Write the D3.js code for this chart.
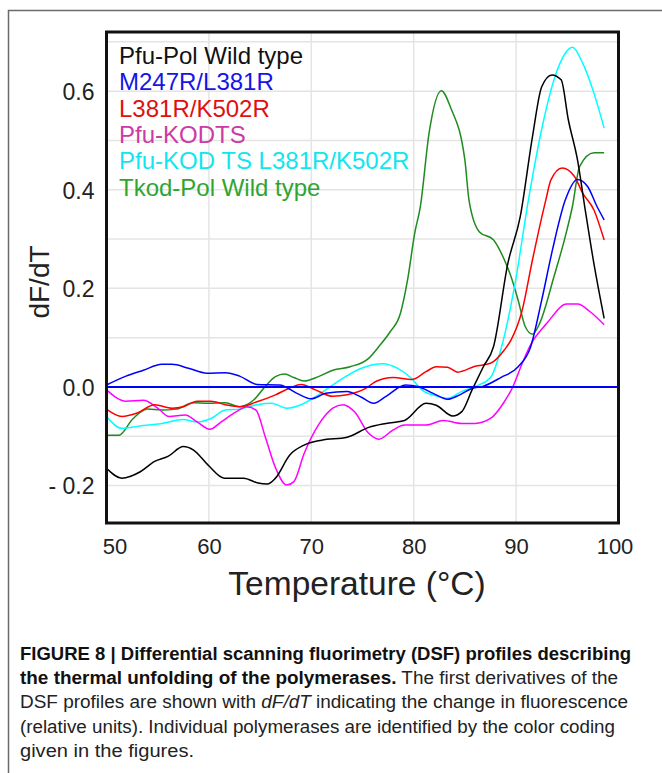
<!DOCTYPE html>
<html><head><meta charset="utf-8">
<script src="https://cdn.jsdelivr.net/npm/d3@7"></script>
<style>
html,body{margin:0;padding:0;background:#fff;}
svg{display:block;}
</style></head>
<body>
<svg id="chart" width="662" height="773"></svg>
<script>
// ---- data ----
const seriesNames = ["Pfu-Pol Wild type","M247R/L381R","L381R/K502R","Pfu-KODTS","Pfu-KOD TS L381R/K502R","Tkod-Pol Wild type"];
const lineColors = ["#000000","#0000ff","#ff0000","#ff00ff","#00ffff","#1e8c1e"];
const textColors = ["#111111","#1515e6","#e01010","#cc3aa6","#10e6ee","#2fa52f"];
const xTicks = [50,60,70,80,90,100];
const yTicks = [0.6,0.4,0.2,0.0,-0.2];
const yTickLabels = ["0.6","0.4","0.2","0.0","- 0.2"];
const yGrid = [-0.2,-0.1,0.1,0.2,0.3,0.4,0.5,0.6,0.7];
const xGrid = [60,70,80,90];

const pfuWT = [[50.0,-0.165],[51.5,-0.185],[53.3,-0.172],[54.7,-0.151],[56.0,-0.141],[57.5,-0.121],[58.5,-0.128],[59.9,-0.158],[61.5,-0.185],[63.4,-0.185],[64.8,-0.195],[65.7,-0.197],[66.5,-0.185],[67.9,-0.138],[69.3,-0.118],[71.0,-0.108],[73.5,-0.102],[75.6,-0.082],[77.3,-0.074],[79.1,-0.068],[81.2,-0.033],[82.2,-0.037],[83.8,-0.059],[84.7,-0.050],[85.7,-0.006],[86.8,0.041],[87.8,0.082],[89.2,0.251],[90.4,0.345],[91.6,0.508],[92.5,0.609],[93.5,0.633],[94.4,0.623],[95.1,0.542],[96.0,0.46],[96.7,0.366],[97.6,0.25],[98.6,0.139]];
const m247r = [[50.0,0.004],[51.9,0.022],[53.6,0.034],[55.4,0.046],[56.4,0.046],[58.0,0.038],[59.8,0.028],[61.6,0.029],[63.0,0.022],[64.7,0.005],[66.9,0.004],[68.6,-0.013],[70.0,-0.024],[71.4,-0.013],[73.5,-0.009],[74.9,-0.021],[76.1,-0.033],[77.3,-0.019],[79.2,0.004],[80.4,0.001],[81.9,-0.013],[83.3,-0.025],[84.5,-0.016],[85.7,-0.003],[86.75,0.001],[88.5,0.019],[90.2,0.041],[91.4,0.08],[92.5,0.176],[93.55,0.278],[94.8,0.379],[96.0,0.421],[97.0,0.406],[97.9,0.366],[98.6,0.339]];
const l381r = [[50.0,-0.045],[51.5,-0.060],[53.0,-0.053],[54.7,-0.036],[56.4,-0.043],[57.5,-0.040],[58.85,-0.029],[60.2,-0.029],[61.6,-0.036],[63.0,-0.040],[64.7,-0.030],[66.5,-0.016],[67.9,-0.002],[69.0,0.005],[70.4,-0.006],[72.1,-0.019],[73.5,-0.016],[75.3,-0.003],[76.3,0.011],[78.0,0.019],[79.8,0.015],[81.2,0.031],[82.2,0.041],[83.3,0.040],[84.3,0.030],[86.0,0.042],[87.5,0.048],[88.85,0.075],[89.5,0.095],[90.6,0.156],[91.6,0.258],[92.9,0.379],[93.4,0.42],[94.5,0.444],[95.7,0.427],[96.5,0.393],[97.6,0.359],[98.6,0.298]];
const kodts = [[50.0,-0.006],[51.9,-0.029],[53.6,-0.027],[55.0,-0.043],[56.1,-0.060],[57.7,-0.057],[58.85,-0.071],[60.1,-0.086],[61.2,-0.071],[62.7,-0.050],[63.7,-0.040],[64.6,-0.047],[65.5,-0.101],[66.5,-0.164],[67.6,-0.199],[68.3,-0.192],[69.3,-0.135],[70.7,-0.077],[72.1,-0.043],[73.1,-0.036],[74.2,-0.050],[75.6,-0.094],[76.6,-0.106],[78.0,-0.087],[79.1,-0.077],[81.2,-0.077],[82.9,-0.068],[84.7,-0.074],[86.0,-0.074],[87.5,-0.064],[88.85,-0.030],[89.7,0.001],[90.6,0.048],[91.4,0.085],[93.0,0.129],[94.95,0.168],[96.0,0.168],[97.2,0.153],[98.6,0.126]];
const kodtsMut = [[50.0,-0.060],[51.5,-0.084],[53.0,-0.080],[55.4,-0.074],[57.5,-0.066],[58.85,-0.071],[60.2,-0.064],[61.6,-0.047],[63.0,-0.045],[64.7,-0.036],[66.1,-0.033],[67.6,-0.043],[69.0,-0.036],[70.7,-0.016],[72.8,0.014],[74.9,0.038],[77.0,0.047],[78.4,0.038],[79.8,0.017],[80.8,-0.006],[82.2,-0.018],[83.3,-0.023],[84.7,-0.009],[86.0,0.001],[87.5,0.019],[88.5,0.075],[89.9,0.21],[91.2,0.379],[92.7,0.542],[93.7,0.623],[94.8,0.677],[95.5,0.689],[96.5,0.657],[97.6,0.596],[98.6,0.525]];
const tkodWT = [[50.0,-0.098],[51.2,-0.098],[52.6,-0.064],[54.0,-0.045],[55.4,-0.047],[56.8,-0.045],[58.5,-0.032],[59.9,-0.033],[61.6,-0.032],[63.0,-0.040],[64.4,-0.026],[65.5,0.001],[66.5,0.021],[67.4,0.026],[68.3,0.019],[69.3,0.012],[70.7,0.021],[72.1,0.034],[73.8,0.041],[75.6,0.058],[76.6,0.082],[77.7,0.112],[78.7,0.149],[79.4,0.217],[80.1,0.312],[80.65,0.366],[81.5,0.515],[82.7,0.601],[83.6,0.567],[85.0,0.46],[85.4,0.379],[86.4,0.315],[87.8,0.298],[88.85,0.258],[89.5,0.224],[90.2,0.176],[90.9,0.122],[91.6,0.107],[92.3,0.129],[93.7,0.224],[94.8,0.305],[95.5,0.366],[96.2,0.447],[97.6,0.475],[98.6,0.475]];
const seriesData = [pfuWT, m247r, l381r, kodts, kodtsMut, tkodWT];
const drawOrder = [5,4,3,2,1,0];

const captionBold1 = "FIGURE 8 | Differential scanning fluorimetry (DSF) profiles describing";
const captionBold2 = "the thermal unfolding of the polymerases.";
const captionRest2 = " The first derivatives of the";
const caption3a = "DSF profiles are shown with ", caption3i = "dF/dT", caption3b = " indicating the change in fluorescence";
const caption4 = "(relative units). Individual polymerases are identified by the color coding";
const caption5 = "given in the figures.";

// ---- drawing ----
const svg = d3.select("#chart");
const FONT = "'Liberation Sans', Arial, Helvetica, sans-serif";
svg.append("rect").attr("width",662).attr("height",773).attr("fill","#fff");

// outer frame (left + top edges visible)
svg.append("path").attr("d","M8.5,773 L8.5,10.5 L662,10.5")
  .attr("fill","none").attr("stroke","#6a6a6a").attr("stroke-width",1.5);

const x = d3.scaleLinear().domain([50,100]).range([106.5,618.5]);
const y = d3.scaleLinear().domain([-0.276,0.72]).range([523,32]);

// grid
const g = svg.append("g");
g.selectAll("line.hg").data(yGrid).join("line")
  .attr("x1",x(50)).attr("x2",x(100)).attr("y1",d=>y(d)).attr("y2",d=>y(d))
  .attr("stroke","#e4e4e4").attr("stroke-width",1.5);
g.selectAll("line.vg").data(xGrid).join("line")
  .attr("y1",y(0.72)).attr("y2",y(-0.276)).attr("x1",d=>x(d)).attr("x2",d=>x(d))
  .attr("stroke","#e4e4e4").attr("stroke-width",1.5);

// curves
const line = d3.line().x(d=>x(d[0])).y(d=>y(d[1])).curve(d3.curveMonotoneX);
drawOrder.forEach(i=>{
  svg.append("path").datum(seriesData[i]).attr("d",line)
    .attr("fill","none").attr("stroke",lineColors[i]).attr("stroke-width",1.5)
    .attr("stroke-linejoin","round");
});

// zero line
svg.append("line").attr("x1",x(50)).attr("x2",x(100)).attr("y1",y(0)).attr("y2",y(0))
  .attr("stroke","#0000ff").attr("stroke-width",2);

// plot border
svg.append("rect").attr("x",x(50)).attr("y",y(0.72)).attr("width",x(100)-x(50)).attr("height",y(-0.276)-y(0.72))
  .attr("fill","none").attr("stroke","#111").attr("stroke-width",3);

// axes (labels only, no tick marks)
const xAxis = d3.axisBottom(x).tickValues(xTicks).tickSize(0).tickPadding(0).tickFormat(d3.format("d"));
const xa = svg.append("g").attr("transform",`translate(0,${y(-0.276)})`).call(xAxis);
xa.select(".domain").remove();
xa.selectAll("text").attr("y",31).attr("dy",0).attr("font-family",FONT).attr("font-size",22).attr("fill","#222")
  .attr("dx",d=> d===50?8:(d===100?-4:0));

const yAxis = d3.axisLeft(y).tickValues(yTicks).tickSize(0).tickPadding(0).tickFormat((d,i)=>yTickLabels[i]);
const ya = svg.append("g").attr("transform",`translate(${x(50)},0)`).call(yAxis);
ya.select(".domain").remove();
ya.selectAll("text").attr("x",-12).attr("dy","0.36em").attr("font-family",FONT).attr("font-size",23).attr("fill","#222");

// axis titles
svg.append("text").attr("x",357).attr("y",595).attr("text-anchor","middle")
  .attr("font-family",FONT).attr("font-size",33.5).attr("fill","#222").text("Temperature (°C)");
svg.append("text").attr("transform","translate(49,282) rotate(-90)").attr("text-anchor","middle")
  .attr("font-family",FONT).attr("font-size",28).attr("fill","#222").text("dF/dT");

// legend
svg.append("g").selectAll("text").data(seriesNames).join("text")
  .attr("x",119).attr("y",(d,i)=>64+i*26.3)
  .attr("font-family",FONT).attr("font-size",24).attr("fill",(d,i)=>textColors[i]).text(d=>d);

// caption
const cap = svg.append("g").attr("font-family",FONT).attr("font-size",17.5).attr("fill","#222");
cap.append("text").attr("x",20).attr("y",660).attr("font-weight","bold").attr("fill","#111").text(captionBold1)
  .attr("textLength",611).attr("lengthAdjust","spacingAndGlyphs");
const t2 = cap.append("text").attr("x",20).attr("y",684).attr("textLength",598).attr("lengthAdjust","spacingAndGlyphs");
t2.append("tspan").attr("font-weight","bold").attr("fill","#111").text(captionBold2);
t2.append("tspan").text(captionRest2);
const t3 = cap.append("text").attr("x",20).attr("y",708).attr("textLength",608).attr("lengthAdjust","spacingAndGlyphs");
t3.append("tspan").text(caption3a);
t3.append("tspan").attr("font-style","italic").text(caption3i);
t3.append("tspan").text(caption3b);
cap.append("text").attr("x",20).attr("y",733).attr("textLength",595).attr("lengthAdjust","spacingAndGlyphs").text(caption4);
cap.append("text").attr("x",20).attr("y",757).attr("textLength",174).attr("lengthAdjust","spacingAndGlyphs").text(caption5);
</script>
</body></html>
